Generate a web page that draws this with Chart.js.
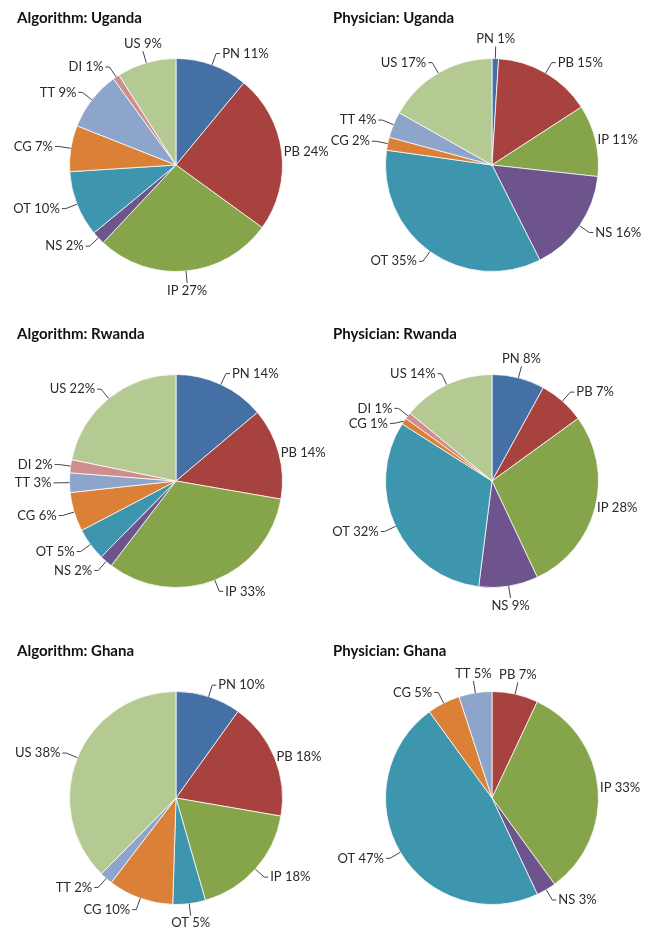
<!DOCTYPE html>
<html>
<head>
<meta charset="utf-8">
<script src="https://cdn.jsdelivr.net/npm/chart.js@4"></script>
<style>
  body { margin: 0; background: #fff; }
  #wrap { position: relative; width: 651px; height: 932px; background: #fff; overflow: hidden; }
  #wrap canvas { position: absolute; }
</style>
</head>
<body>
<div id="wrap"></div>
<script>
// slice categories, in clockwise order from 12 o'clock
const categories = ['PN', 'PB', 'IP', 'NS', 'OT', 'CG', 'TT', 'DI', 'US'];

// percentages per panel (0 = category absent)
const algUganda = [11, 24, 27, 2, 10, 7, 9, 1, 9];
const phyUganda = [1, 15, 11, 16, 35, 2, 4, 0, 17];
const algRwanda = [14, 14, 33, 2, 5, 6, 3, 2, 22];
const phyRwanda = [8, 7, 28, 9, 32, 1, 0, 1, 14];
const algGhana = [10, 18, 18, 0, 5, 10, 2, 0, 38];
const phyGhana = [0, 7, 33, 3, 47, 5, 5, 0, 0];

const titles = ['Algorithm: Uganda', 'Physician: Uganda', 'Algorithm: Rwanda',
                'Physician: Rwanda', 'Algorithm: Ghana', 'Physician: Ghana'];
const series = [algUganda, phyUganda, algRwanda, phyRwanda, algGhana, phyGhana];

const colors = ['#4470A6', '#A8423F', '#86A44A', '#6E548D', '#3D96AE',
                '#DA8137', '#8EA5CB', '#CE8E8D', '#B5CA92'];

const pieLabels = {
  id: 'pieLabels',
  afterDatasetsDraw(chart) {
    const ctx = chart.ctx;
    const meta = chart.getDatasetMeta(0);
    const vals = chart.data.datasets[0].data;
    const items = [];
    meta.data.forEach((arc, i) => {
      const v = vals[i];
      if (!v) return;
      const p = arc.getProps(['x', 'y', 'startAngle', 'endAngle', 'outerRadius'], true);
      const mid = (p.startAngle + p.endAngle) / 2;
      const cos = Math.cos(mid), sin = Math.sin(mid), r = p.outerRadius;
      const flat = cos > 0.9; // right-hand labels sit on the rim, no leader
      const d = flat ? 2 : 12;
      items.push({
        text: chart.data.labels[i] + ' ' + v + '%',
        cos, sin, flat,
        ex: p.x + r * cos, ey: p.y + r * sin,
        ax: p.x + (r + d) * cos, ay: p.y + (r + d) * sin
      });
    });
    // keep labels on the same side from overlapping
    [1, -1].forEach(s => {
      const g = items.filter(it => Math.abs(it.cos) >= 0.3 && Math.sign(it.cos) === s)
                     .sort((a, b) => a.ay - b.ay);
      for (let k = 1; k < g.length; k++) {
        if (g[k].ay - g[k - 1].ay < 15) g[k].ay = g[k - 1].ay + 15;
      }
    });
    ctx.save();
    ctx.font = '13px Lato';
    ctx.fillStyle = '#2a2a2a';
    ctx.strokeStyle = '#444';
    ctx.lineWidth = 1;
    items.forEach(it => {
      if (it.flat) {
        ctx.textAlign = 'left';
        ctx.textBaseline = 'middle';
        ctx.fillText(it.text, it.ax, it.ay);
        return;
      }
      ctx.beginPath();
      ctx.moveTo(it.ex, it.ey);
      ctx.lineTo(it.ax, it.ay);
      if (Math.abs(it.cos) >= 0.3) {
        const s = it.cos > 0 ? 1 : -1;
        ctx.lineTo(it.ax + 4 * s, it.ay);
        ctx.stroke();
        ctx.textAlign = s > 0 ? 'left' : 'right';
        ctx.textBaseline = 'middle';
        ctx.fillText(it.text, it.ax + 6 * s, it.ay);
      } else {
        ctx.stroke();
        ctx.textAlign = 'center';
        ctx.textBaseline = it.sin < 0 ? 'bottom' : 'top';
        ctx.fillText(it.text, it.ax, it.ay + (it.sin < 0 ? -1 : 1));
      }
    });
    ctx.restore();
  },
  afterDraw(chart) {
    const ctx = chart.ctx;
    ctx.save();
    ctx.font = 'bold 15px Lato';
    ctx.fillStyle = '#111';
    ctx.textAlign = 'left';
    ctx.textBaseline = 'middle';
    ctx.fillText(chart.options.plugins.panelTitle.text, 17, 18);
    ctx.restore();
  }
};

const wrap = document.getElementById('wrap');
const colLeft = [0, 316];
const rowTop = [0, 316, 633];

series.forEach((vals, n) => {
  const c = document.createElement('canvas');
  c.width = 350; c.height = 310;
  c.style.left = colLeft[n % 2] + 'px';
  c.style.top = rowTop[Math.floor(n / 2)] + 'px';
  wrap.appendChild(c);
  new Chart(c.getContext('2d'), {
    type: 'pie',
    data: {
      labels: categories,
      datasets: [{
        data: vals,
        backgroundColor: colors,
        borderColor: 'rgba(255,255,255,0.75)',
        borderWidth: ctx => (ctx.raw > 0 ? 1 : 0),
        hoverOffset: 0
      }]
    },
    options: {
      responsive: false,
      animation: false,
      events: [],
      layout: { padding: { left: 69, top: 58, right: 67, bottom: 38 } },
      plugins: {
        legend: { display: false },
        tooltip: { enabled: false },
        panelTitle: { text: titles[n] }
      }
    },
    plugins: [pieLabels]
  });
});
</script>
</body>
</html>
